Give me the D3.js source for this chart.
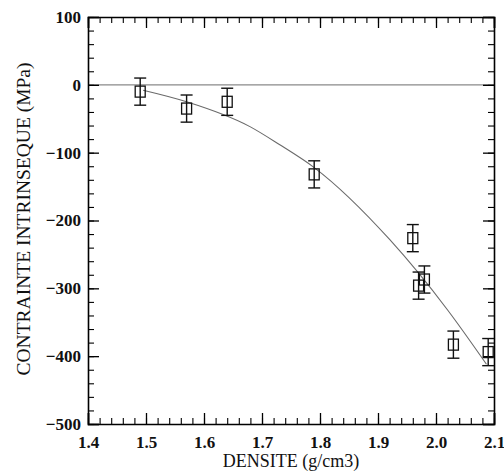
<!DOCTYPE html>
<html><head><meta charset="utf-8">
<script src="https://cdn.jsdelivr.net/npm/d3@7"></script>
<style>body{margin:0;background:#fff}svg{display:block}</style>
</head><body>
<script>
// Data
const densite   = [1.49, 1.57, 1.64, 1.79, 1.96, 1.97, 1.98, 2.03, 2.09];
const contrainte= [-10, -35, -25, -132, -226, -296, -287, -383, -394];
const erreur    = [20, 20, 20, 20, 20, 20, 20, 20, 20];
const fitX = [1.495, 1.57, 1.68, 1.73, 1.79, 1.92, 2.02, 2.087];
const fitY = [-8, -25, -62, -88, -122, -228, -332, -412];
const xTicks = [1.4, 1.5, 1.6, 1.7, 1.8, 1.9, 2.0, 2.1];
const yTicks = [100, 0, -100, -200, -300, -400, -500];
const xTitle = "DENSITE (g/cm3)";
const yTitle = "CONTRAINTE INTRINSEQUE (MPa)";

const W = 504, H = 473;
const m = {l: 88, t: 17, r: 10, b: 49};
const FONT = "Liberation Serif";
const svg = d3.select("body").append("svg").attr("width", W).attr("height", H);
const x = d3.scaleLinear().domain([1.4, 2.1]).range([m.l, W - m.r]);
const y = d3.scaleLinear().domain([-500, 100]).range([H - m.b, m.t]);

const xMinor = d3.range(140, 211, 2).map(v => v / 100);
const yMinor = d3.range(-500, 101, 20);

// zero line
svg.append("line").attr("x1", x(1.4)).attr("x2", x(2.1)).attr("y1", y(0)).attr("y2", y(0))
  .attr("stroke", "#8a8a8a").attr("stroke-width", 1.2);

// fit curve
svg.append("path").datum(fitX.map((d, i) => [d, fitY[i]]))
  .attr("fill", "none").attr("stroke", "#6a6a6a").attr("stroke-width", 1.1)
  .attr("d", d3.line().x(d => x(d[0])).y(d => y(d[1])).curve(d3.curveMonotoneX));

// axes with inward ticks (major + minor) on all sides
function addAxis(axisFn, scale, tr, major, minor, pad, fmt) {
  const gMin = svg.append("g").attr("transform", tr)
    .call(axisFn(scale).tickValues(minor).tickSize(-6).tickFormat(""));
  gMin.select(".domain").remove();
  gMin.selectAll("text").remove();
  const g = svg.append("g").attr("transform", tr)
    .call(axisFn(scale).tickValues(major).tickSize(-11).tickPadding(pad || 0)
      .tickFormat(fmt || ""));
  if (!fmt) g.selectAll("text").remove();
  g.attr("font-family", FONT);
  g.select(".domain").attr("stroke-width", 1.6);
  g.selectAll(".tick line").attr("stroke-width", 1.3);
  gMin.selectAll(".tick line").attr("stroke-width", 1.1);
  g.selectAll("text").attr("font-family", FONT).attr("font-size", 17)
    .attr("font-weight", "bold").attr("fill", "#111");
  return g;
}
addAxis(d3.axisBottom, x, `translate(0,${y(-500)})`, xTicks, xMinor, 12, d3.format(".1f"));
addAxis(d3.axisTop, x, `translate(0,${y(100)})`, xTicks, xMinor);
addAxis(d3.axisLeft, y, `translate(${x(1.4)},0)`, yTicks, yMinor, 7, d3.format("d"));
addAxis(d3.axisRight, y, `translate(${x(2.1)},0)`, yTicks, yMinor);

// error bars
const pts = densite.map((d, i) => ({x: d, y: contrainte[i], e: erreur[i]}));
const eb = svg.append("g").attr("stroke", "#111").attr("stroke-width", 1.4).attr("fill", "none");
pts.forEach(p => {
  const cx = x(p.x);
  eb.append("line").attr("x1", cx).attr("x2", cx).attr("y1", y(p.y + p.e)).attr("y2", y(p.y - p.e));
  eb.append("line").attr("x1", cx - 6).attr("x2", cx + 6).attr("y1", y(p.y + p.e)).attr("y2", y(p.y + p.e));
  eb.append("line").attr("x1", cx - 6).attr("x2", cx + 6).attr("y1", y(p.y - p.e)).attr("y2", y(p.y - p.e));
});
// open squares
svg.append("g").selectAll("rect").data(pts).join("rect")
  .attr("x", d => x(d.x) - 5).attr("y", d => y(d.y) - 5.5)
  .attr("width", 10).attr("height", 11)
  .attr("fill", "none").attr("stroke", "#111").attr("stroke-width", 1.3);

// titles
svg.append("text").attr("x", (x(1.4) + x(2.1)) / 2).attr("y", 467)
  .attr("text-anchor", "middle").attr("font-family", FONT).attr("font-size", 18)
  .attr("fill", "#111").text(xTitle);
svg.append("text").attr("transform", `translate(30,219) rotate(-90)`)
  .attr("text-anchor", "middle").attr("font-family", FONT).attr("font-size", 19.5)
  .attr("fill", "#111").text(yTitle);
</script>
</body></html>
